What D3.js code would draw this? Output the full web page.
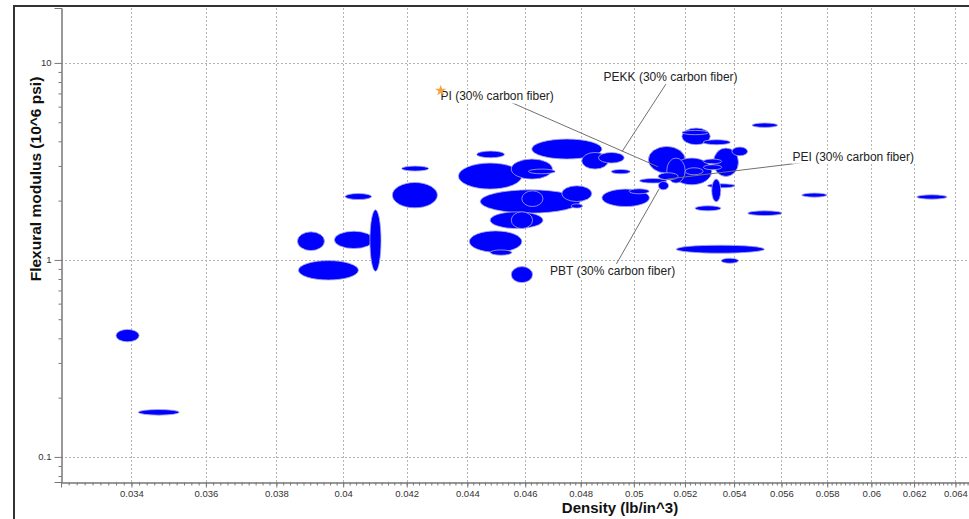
<!DOCTYPE html>
<html>
<head>
<meta charset="utf-8">
<script src="https://cdn.jsdelivr.net/npm/d3@7"></script>
<style>
  body { margin: 0; background: #fff; }
  svg { display: block; font-family: "Liberation Sans", Arial, sans-serif; }
</style>
</head>
<body>
<div id="chart"></div>
<script>
// density range (lb/in^3) and flexural modulus range (10^6 psi) per material bubble
var densLo = [0.0336, 0.03418, 0.03862, 0.03865, 0.03973, 0.04083, 0.04006, 0.04154, 0.04184, 0.04432,
              0.04370, 0.04551, 0.04611, 0.04623, 0.04804, 0.04866, 0.04914, 0.04444, 0.04588, 0.04731,
              0.04765, 0.04478, 0.04551, 0.04407, 0.04478, 0.04551, 0.04879, 0.04982, 0.05022, 0.05056,
              0.05188, 0.05188, 0.05273, 0.05148, 0.05128, 0.05094, 0.05201, 0.05095, 0.05315, 0.05391,
              0.05274, 0.05274, 0.05291, 0.05308, 0.05241, 0.05475, 0.05457, 0.05165, 0.05347, 0.05688,
              0.06213];
var densHi = [0.0342, 0.03527, 0.03943, 0.04047, 0.04094, 0.04118, 0.04088, 0.04300, 0.04271, 0.04527,
              0.04588, 0.04697, 0.04707, 0.04879, 0.04903, 0.04963, 0.04986, 0.04798, 0.04663, 0.04841,
              0.04807, 0.04663, 0.04626, 0.04588, 0.04553, 0.04626, 0.05060, 0.05059, 0.05128, 0.05201,
              0.05302, 0.05295, 0.05384, 0.05308, 0.05201, 0.05173, 0.05273, 0.05135, 0.05418, 0.05456,
              0.05349, 0.05349, 0.05404, 0.05345, 0.05345, 0.05583, 0.05602, 0.05527, 0.05418, 0.05799,
              0.06358];
var modLo = [0.384, 0.163, 1.115, 0.791, 1.142, 0.876, 2.026, 1.838, 2.825, 3.301,
             2.288, 2.572, 2.737, 3.251, 2.891, 3.102, 2.737, 1.728, 1.866, 1.979,
             1.832, 1.443, 1.443, 1.094, 1.057, 0.767, 1.866, 2.166, 2.455, 2.759,
             3.843, 4.321, 3.843, 2.406, 2.455, 2.551, 2.705, 2.269, 2.652, 3.379,
             3.077, 2.868, 2.323, 1.972, 1.775, 4.706, 1.680, 1.082, 0.962, 2.083,
             2.035];
var modHi = [0.444, 0.174, 1.388, 0.992, 1.399, 1.796, 2.173, 2.472, 2.995, 3.569,
             3.102, 3.251, 2.891, 4.108, 3.511, 3.511, 2.878, 2.269, 2.243, 2.378,
             1.926, 1.754, 1.754, 1.404, 1.124, 0.925, 2.288, 2.296, 2.590, 3.767,
             4.673, 4.544, 4.075, 3.289, 3.289, 2.769, 2.936, 2.501, 3.697, 3.741,
             3.251, 3.041, 2.435, 2.572, 1.882, 4.954, 1.775, 1.188, 1.020, 2.184,
             2.140];

// labelled materials: label centre and the point the leader line goes to
var labelNames = ["PI (30% carbon fiber)", "PEKK (30% carbon fiber)", "PEI (30% carbon fiber)", "PBT (30% carbon fiber)"];
var labelDens = [0.04502, 0.05143, 0.05917, 0.04919];
var labelMod = [6.77, 8.49, 3.35, 0.882];
var targetDens = [0.05094, 0.04955, 0.05129, 0.05098];
var targetMod = [2.97, 3.55, 2.572, 2.296];

// highlighted point
var starDens = [0.04311];
var starMod = [7.23];

var xTicks = [0.034, 0.036, 0.038, 0.04, 0.042, 0.044, 0.046, 0.048, 0.05, 0.052, 0.054, 0.056, 0.058, 0.06, 0.062, 0.064];
var yTicks = [0.1, 1, 10];

var W = 969, H = 519;
var plotL = 61, plotR = 969, plotT = 8, plotB = 482;

var svg = d3.select('#chart').append('svg')
    .attr('width', W)
    .attr('height', H);

var x = d3.scaleLog().domain([0.03221, 0.06467]).range([plotL, plotR]);
var y = d3.scaleLog().domain([0.0746, 19.0]).range([plotB, plotT]);

var xMinor = d3.range(162, 324).map(d => d * 0.0002).filter(d => d > 0.03221 && d < 0.06467);
var yMinor = [];
[0.01, 0.1, 1].forEach(function(p) {
    for (var k = 2; k <= 9; k++) {
        var v = p * k;
        if (v > 0.0746 && v < 19) yMinor.push(v);
    }
});

// grid
svg.append('g').selectAll('line')
    .data(xTicks).join('line')
    .attr('x1', d => Math.round(x(d)) + 0.5).attr('x2', d => Math.round(x(d)) + 0.5)
    .attr('y1', plotT).attr('y2', plotB)
    .attr('stroke', '#b4b4b4').attr('stroke-dasharray', '2,2');
svg.append('g').selectAll('line')
    .data(yTicks).join('line')
    .attr('x1', plotL).attr('x2', plotR)
    .attr('y1', d => Math.round(y(d)) + 0.5).attr('y2', d => Math.round(y(d)) + 0.5)
    .attr('stroke', '#b4b4b4').attr('stroke-dasharray', '2,2');

// axes
var fmt = d => String(+d.toFixed(3));
var gx = svg.append('g').attr('transform', `translate(0,${plotB + 0.5})`);
gx.call(d3.axisBottom(x).tickValues(xMinor).tickSize(3).tickFormat(''));
gx.append('g').call(d3.axisBottom(x).tickValues(xTicks).tickSize(5).tickFormat(fmt));

var gy = svg.append('g').attr('transform', `translate(${plotL + 0.5},0)`);
gy.call(d3.axisLeft(y).tickValues(yMinor).tickSize(3).tickFormat(''));
gy.append('g').call(d3.axisLeft(y).tickValues(yTicks).tickSize(7).tickFormat(d => String(d)));

svg.selectAll('.domain').attr('stroke', '#777');
svg.selectAll('.tick line').attr('stroke', '#777');
svg.selectAll('.tick text').attr('fill', '#333').attr('font-size', '9.5px')
    .attr('font-family', '"Liberation Sans", Arial, sans-serif');

// bubbles
var bubbles = d3.range(densLo.length);
svg.append('g').selectAll('ellipse')
    .data(bubbles).join('ellipse')
    .attr('cx', i => (x(densLo[i]) + x(densHi[i])) / 2)
    .attr('cy', i => (y(modLo[i]) + y(modHi[i])) / 2)
    .attr('rx', i => (x(densHi[i]) - x(densLo[i])) / 2)
    .attr('ry', i => (y(modLo[i]) - y(modHi[i])) / 2)
    .attr('fill', '#0000ff')
    .attr('stroke', '#a9a9e6')
    .attr('stroke-width', 0.8);

// leader lines
var ann = d3.range(labelNames.length);
svg.append('g').selectAll('line')
    .data(ann).join('line')
    .attr('x1', i => x(labelDens[i])).attr('y1', i => y(labelMod[i]))
    .attr('x2', i => x(targetDens[i])).attr('y2', i => y(targetMod[i]))
    .attr('stroke', '#707070').attr('stroke-width', 1);

// labels with white boxes
var lab = svg.append('g').selectAll('g')
    .data(ann).join('g');
lab.append('rect').attr('fill', '#fff');
lab.append('text')
    .attr('x', i => x(labelDens[i]))
    .attr('y', i => y(labelMod[i]))
    .attr('text-anchor', 'middle')
    .attr('dy', '0.35em')
    .attr('font-size', '12px')
    .attr('fill', '#222')
    .text(i => labelNames[i]);
lab.each(function() {
    var b = d3.select(this).select('text').node().getBBox();
    d3.select(this).select('rect')
        .attr('x', b.x - 1).attr('y', b.y).attr('width', b.width + 2).attr('height', b.height);
});

// star marker
svg.append('g').selectAll('path')
    .data(starDens).join('path')
    .attr('transform', (d, i) => `translate(${x(d)},${y(starMod[i])})`)
    .attr('d', d3.symbol(d3.symbolStar, 38))
    .attr('fill', '#f4a23c');

// titles
svg.append('text')
    .attr('x', 620).attr('y', 513)
    .attr('text-anchor', 'middle')
    .attr('font-size', '15px').attr('font-weight', 'bold').attr('fill', '#111')
    .text('Density (lb/in^3)');
svg.append('text')
    .attr('transform', 'translate(41,179) rotate(-90)')
    .attr('text-anchor', 'middle')
    .attr('font-size', '15.5px').attr('font-weight', 'bold').attr('fill', '#111')
    .text('Flexural modulus (10^6 psi)');

// outer frame
svg.append('rect')
    .attr('x', 14).attr('y', 6).attr('width', 1200).attr('height', 800)
    .attr('fill', 'none').attr('stroke', '#333').attr('stroke-width', 2);
</script>
</body>
</html>
